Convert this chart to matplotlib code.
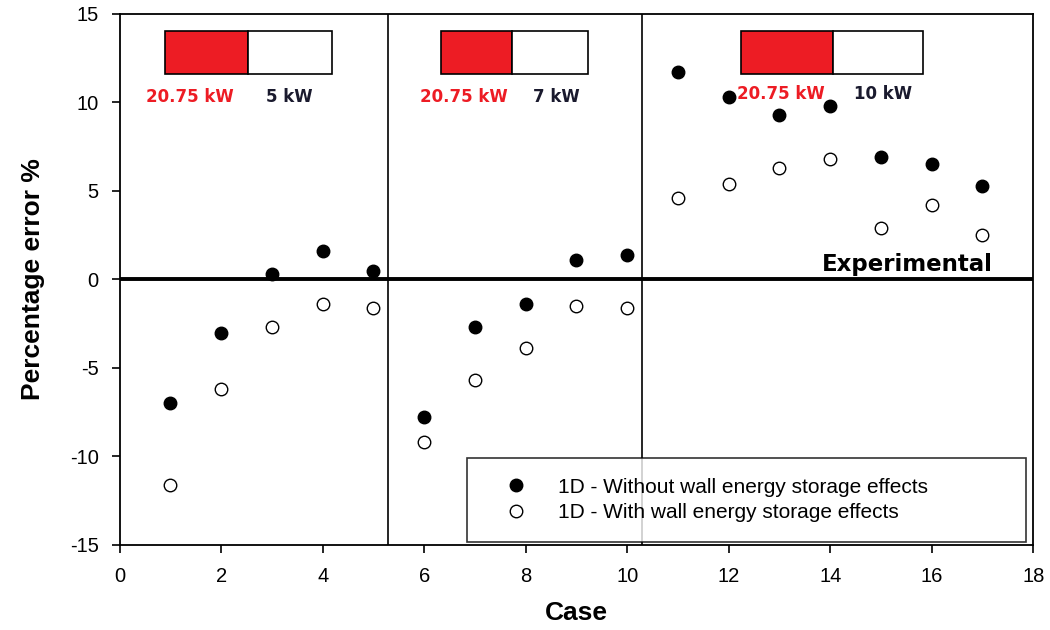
import matplotlib.pyplot as plt
from matplotlib.patches import Rectangle

plt.rcParams['font.family'] = ['Liberation Sans', 'DejaVu Sans']
plt.rcParams['axes.unicode_minus'] = False

cases = list(range(1, 18))
without_wall = [-7.0, -3.0, 0.3, 1.6, 0.5, -7.8, -2.7, -1.4, 1.1, 1.4,
                11.7, 10.3, 9.3, 9.8, 6.9, 6.5, 5.3]
with_wall = [-11.6, -6.2, -2.7, -1.4, -1.6, -9.2, -5.7, -3.9, -1.5, -1.6,
             4.6, 5.4, 6.3, 6.8, 2.9, 4.2, 2.5]

group_bounds = [5.28, 10.3]
heat_labels = ["20.75 kW", "20.75 kW", "20.75 kW"]
power_labels = ["5 kW", "7 kW", "10 kW"]

fig = plt.figure(figsize=(10.5, 6.3), dpi=100)
ax = fig.add_axes([0.114, 0.135, 0.87, 0.843])

ax.axhline(0, color="black", lw=2.8, zorder=2)
for b in group_bounds:
    ax.axvline(b, color="black", lw=1.2, zorder=2)

ax.plot(cases, without_wall, "o", color="black", ms=9, zorder=4,
        label="1D - Without wall energy storage effects")
ax.plot(cases, with_wall, "o", mfc="white", mec="black", mew=1.0, ms=9, zorder=4,
        label="1D - With wall energy storage effects")

# power ratio boxes
boxes = [(0.89, 2.52, 4.18), (6.33, 7.73, 9.23), (12.24, 14.06, 15.83)]
text_x = [(0.51, 2.88), (5.91, 8.14), (12.16, 14.47)]
text_y = [10.3, 10.3, 10.5]
for (x0, xm, x1), (tx1, tx2), ty, hl, pl in zip(boxes, text_x, text_y, heat_labels, power_labels):
    ax.add_patch(Rectangle((x0, 11.6), xm - x0, 2.45, facecolor="#ED1C24",
                           edgecolor="black", lw=1.2, zorder=3))
    ax.add_patch(Rectangle((xm, 11.6), x1 - xm, 2.45, facecolor="white",
                           edgecolor="black", lw=1.2, zorder=3))
    ax.text(tx1, ty, hl, color="#ED1C24", fontsize=12, fontweight="bold",
            family="DejaVu Sans", va="center", ha="left", zorder=5)
    ax.text(tx2, ty, pl, color="#1a1a2e", fontsize=12, fontweight="bold",
            family="DejaVu Sans", va="center", ha="left", zorder=5)

ax.text(17.2, 0.85, "Experimental", fontsize=16.5, fontweight="bold",
        ha="right", va="center", family="DejaVu Sans")

ax.set_xlim(0, 18)
ax.set_ylim(-15, 15)
ax.set_xticks(range(0, 19, 2))
ax.set_yticks(range(-15, 16, 5))
ax.tick_params(direction="out", length=6, width=1.2, labelsize=14.5)
ax.tick_params(axis="x", pad=10)
ax.tick_params(axis="y", pad=9)
for s in ax.spines.values():
    s.set_linewidth(1.3)

ax.set_xlabel("Case", fontsize=19, fontweight="bold", labelpad=11)
ax.set_ylabel("Percentage error %", fontsize=19, fontweight="bold", labelpad=18)

leg = ax.legend(loc="lower left", bbox_to_anchor=(0.38, 0.006, 0.612, 0.16),
                mode="expand", fontsize=15, frameon=True, fancybox=False,
                edgecolor="black", handlelength=2.8, handletextpad=0.62,
                borderpad=0.95, labelspacing=0.3, borderaxespad=0)
leg.get_frame().set_linewidth(1.2)

plt.savefig("out.png", dpi=100)
